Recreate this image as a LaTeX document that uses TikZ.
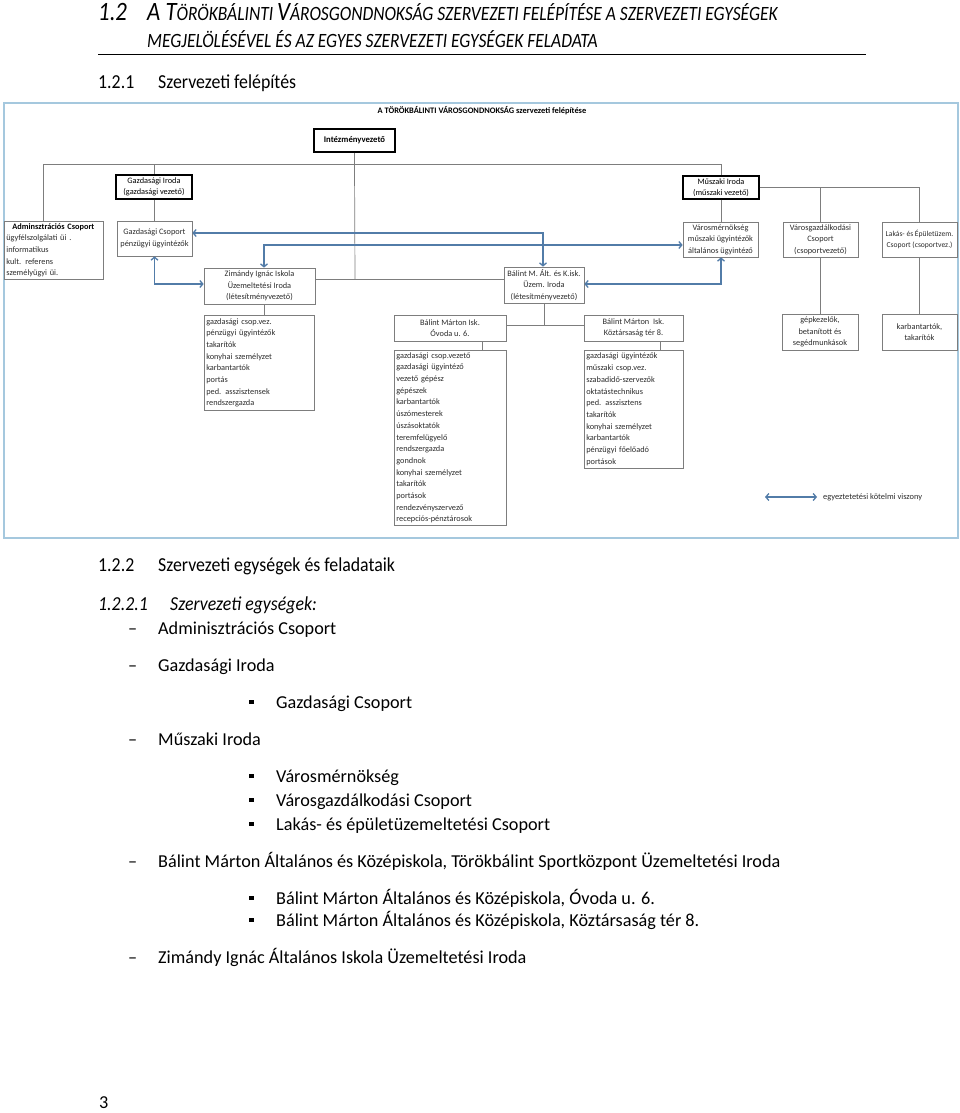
\documentclass[tikz,border=0pt]{standalone}
\usepackage{fontspec}
\setmainfont{Carlito}
\newfontfamily\narrowf[FakeStretch=0.86]{Carlito}
\newfontfamily\narrowg[FakeStretch=0.9]{Carlito}
\usetikzlibrary{arrows.meta}
\definecolor{frameblue}{RGB}{165,200,222}
\definecolor{arrowblue}{RGB}{82,124,168}
\definecolor{boxgray}{RGB}{125,125,125}
\definecolor{txtgray}{RGB}{45,45,45}
\newcommand\bigc[1]{{\fontsize{26.5}{29}\selectfont #1}}
\newcommand\smc[1]{{\fontsize{20.3}{22}\selectfont #1}}
\begin{document}
\begin{tikzpicture}[x=1pt,y=-1pt,
  box/.style={draw=boxgray, line width=0.7pt, fill=white, text=txtgray, font=\fontsize{8.3}{11.5}\selectfont, align=center, inner sep=0pt},
  bossbox/.style={box, draw=black, line width=1.3pt, text=black},
  listbox/.style={draw=boxgray, line width=0.7pt, fill=white, text=txtgray, font=\fontsize{8.3}{11.7}\selectfont, align=left, anchor=north west, inner xsep=2pt, inner ysep=0pt},
  conn/.style={draw=boxgray, line width=0.7pt},
  link/.style={draw=arrowblue, line width=1.3pt, {Straight Barb[length=3pt,width=7pt]}-{Straight Barb[length=3pt,width=7pt]}},
  body/.style={anchor=base west, font=\fontsize{18.2}{20}\selectfont, inner sep=0pt},
  head/.style={anchor=base west, font=\narrowg\fontsize{19.8}{22}\selectfont, inner sep=0pt},
  bul/.style={fill=black, minimum size=4.5pt, inner sep=0pt}
]
\fill[white] (0,0) rectangle (960,1113);
\useasboundingbox (0,0) rectangle (960,1113);

% ---- top heading
\node[anchor=base west, inner sep=0pt, font=\narrowf\itshape\fontsize{26.5}{29}\selectfont] (n12) at (98,21) {1.2};
\node[anchor=base west, inner sep=0pt, font=\narrowf\itshape] (h1) at (147,21) {\bigc{A T}\smc{ÖRÖKBÁLINTI }\bigc{V}\smc{ÁROSGONDNOKSÁG SZERVEZETI FELÉPÍTÉSE A SZERVEZETI EGYSÉGEK}};
\node[anchor=base west, inner sep=0pt, font=\narrowf\itshape] (h2) at (147,48) {\smc{MEGJELÖLÉSÉVEL ÉS AZ EGYES SZERVEZETI EGYSÉGEK FELADATA}};
\coordinate (r1) at (98,54); \coordinate (r2) at (866,54);
\draw[line width=0.8pt] (r1) -- (r2);
\node[head] (n121) at (98,89) {1.2.1};
\node[head] (t121) at (158,89) {Szervezeti felépítés};

% ---- chart frame
\draw[frameblue, line width=1.5pt] (4,103) rectangle (958,538);
\node[font=\bfseries\fontsize{8.4}{10}\selectfont, inner sep=0pt] (title) at (482,111) {A TÖRÖKBÁLINTI VÁROSGONDNOKSÁG szervezeti felépítése};

% ---- boxes
\node[bossbox, minimum width=81pt, minimum height=23pt, font=\fontsize{8.7}{11}\selectfont] (intez) at (354.5,140.5) {\bfseries Intézményvezető};
\node[bossbox, minimum width=76pt, minimum height=24pt] (gi) at (154,187) {Gazdasági Iroda\\(gazdasági vezető)};
\node[box, minimum width=75pt, minimum height=35pt] (gc) at (154.5,238.5) {Gazdasági Csoport\\pénzügyi ügyintézők};
\node[listbox, text width=95pt, minimum height=58pt] (adm) at (4,221) {\hspace*{6pt}{\bfseries\color{black}Adminsztrációs Csoport}\\ügyfélszolgálati üi .\\informatikus\\kult. referens\\személyügyi üi.};
\node[box, minimum width=111pt, minimum height=36pt] (zim) at (259.5,286) {Zimándy Ignác Iskola\\Üzemeltetési Iroda\\(létesítményvezető)};
\node[listbox, text width=106pt, minimum height=95pt] (ziml) at (204,315) {gazdasági csop.vez.\\pénzügyi ügyintézők\\takarítók\\konyhai személyzet\\karbantartók\\portás\\ped. asszisztensek\\rendszergazda};
\node[box, minimum width=80pt, minimum height=36pt] (bm) at (544,285) {Bálint M. Ált. és K.isk.\\Üzem. Iroda\\(létesítményvezető)};
\node[box, minimum width=112pt, minimum height=26pt] (ov) at (450,328) {Bálint Márton Isk.\\Óvoda u. 6.};
\node[box, minimum width=99pt, minimum height=26pt] (kt) at (633.5,328) {Bálint Márton\ \ Isk.\\Köztársaság tér 8.};
\node[listbox, text width=108pt, minimum height=175pt] (ovl) at (394,350) {gazdasági csop.vezető\\gazdasági ügyintéző\\vezető gépész\\gépészek\\karbantartók\\úszómesterek\\úszásoktatók\\teremfelügyelő\\rendszergazda\\gondnok\\konyhai személyzet\\takarítók\\portások\\rendezvényszervező\\recepciós-pénztárosok};
\node[listbox, text width=95pt, minimum height=118pt] (ktl) at (584,350) {gazdasági ügyintézők\\műszaki csop.vez.\\szabadidő-szervezők\\oktatástechnikus\\ped. asszisztens\\takarítók\\konyhai személyzet\\karbantartók\\pénzügyi főelőadó\\portások};
\node[bossbox, minimum width=76pt, minimum height=23pt] (mi) at (721,187.5) {Műszaki Iroda\\(műszaki vezető)};
\node[box, minimum width=75pt, minimum height=35pt] (vm) at (720.5,239.5) {Városmérnökség\\műszaki ügyintézők\\általános ügyintéző};
\node[box, minimum width=75pt, minimum height=35pt] (vg) at (820.5,239.5) {Városgazdálkodási\\Csoport\\(csoportvezető)};
\node[box, minimum width=75pt, minimum height=35pt, font=\fontsize{7.6}{11}\selectfont] (lak) at (919.5,239.5) {Lakás- és Épületüzem.\\Csoport (csoportvez.)};
\node[box, minimum width=76pt, minimum height=36pt] (gep) at (820,332) {gépkezelők,\\betanított és\\segédmunkások};
\node[box, minimum width=75pt, minimum height=36pt] (karb) at (919.5,332) {karbantartók,\\takarítók};

% ---- connectors
\coordinate (hl) at (43,164); \coordinate (hr) at (721,164);
\draw[conn] (hl) -- (hr);
\draw[conn] (hl) -- (hl |- adm.north);
\draw[conn] (gi.north |- hl) -- (gi.north);
\draw[conn] (gi.south) -- (gi.south |- gc.north);
\coordinate (mid) at (355,279);
\draw[conn] (intez.south) -- (intez.south |- hl);
\draw[conn] (intez.south |- hl) -- (mid);
\draw[conn] (zim.east |- mid) -- (bm.west |- mid);
\draw[conn] (hr) -- (mi.north);
\draw[conn] (mi.south) -- (mi.south |- vm.north);
\coordinate (mr) at (919.5,187.5);
\draw[conn] (mi.east) -- (mr) -- (mr |- lak.north);
\draw[conn] (vg.north |- mr) -- (vg.north);
\draw[conn] (vg.south) -- (vg.south |- gep.north);
\draw[conn] (lak.south) -- (lak.south |- karb.north);
\draw[conn] ([xshift=4.5pt]zim.south) -- ([xshift=4.5pt]zim.south |- ziml.north);
\coordinate (bj) at (544,325);
\draw[conn] (bm.south) -- (bj);
\draw[conn] (ov.east |- bj) -- (kt.west |- bj);
\draw[conn] ([xshift=32pt]ov.south) -- ([xshift=32pt]ov.south |- ovl.north);
\draw[conn] ([xshift=26.5pt]kt.south) -- ([xshift=26.5pt]kt.south |- ktl.north);

% ---- coordination arrows
\coordinate (a1) at (154.5,284);
\draw[link] (gc.south) -- (a1) -- (a1 -| zim.west);
\coordinate (a2) at (543,233);
\draw[link] (gc.east |- a2) -- (a2) -- (a2 |- bm.north);
\coordinate (a3) at (264,245);
\draw[link] (a3 |- zim.north) -- (a3) -- (a3 -| vm.west);
\coordinate (a4) at (721,284);
\draw[link] (a4 -| bm.east) -- (a4) -- (a4 |- vm.south);
\coordinate (l1) at (765,497); \coordinate (l2) at (817,497);
\draw[link] (l1) -- (l2);
\node[anchor=west, inner sep=0pt, text=txtgray, font=\fontsize{8.4}{10}\selectfont] (legend) at (823,497) {egyeztetetési kötelmi viszony};

% ---- lower text
\node[head] (n122) at (98,571) {1.2.2};
\node[head] (t122) at (158,571) {Szervezeti egységek és feladataik};
\node[head, font=\narrowg\itshape\fontsize{19.8}{22}\selectfont] (n1221) at (98,610) {1.2.2.1};
\node[head, font=\narrowg\itshape\fontsize{19.8}{22}\selectfont] (t1221) at (170,610) {Szervezeti egységek:};

\node[body] (d1) at (128,634) {–}; \node[body] (i1) at (158,634) {Adminisztrációs Csoport};
\node[body] (d2) at (128,671) {–}; \node[body] (i2) at (158,671) {Gazdasági Iroda};
\node[bul] (b1) at (251.5,702) {}; \node[body] (j1) at (276,708) {Gazdasági Csoport};
\node[body] (d3) at (128,745) {–}; \node[body] (i3) at (158,745) {Műszaki Iroda};
\node[bul] (b2) at (251.5,776) {}; \node[body] (j2) at (276,782) {Városmérnökség};
\node[bul] (b3) at (251.5,800) {}; \node[body] (j3) at (276,806) {Városgazdálkodási Csoport};
\node[bul] (b4) at (251.5,824) {}; \node[body] (j4) at (276,830) {Lakás- és épületüzemeltetési Csoport};
\node[body] (d4) at (128,867) {–}; \node[body] (i4) at (158,867) {Bálint Márton Általános és Középiskola, Törökbálint Sportközpont Üzemeltetési Iroda};
\node[bul] (b5) at (251.5,898) {}; \node[body] (j5) at (276,904) {Bálint Márton Általános és Középiskola, Óvoda u. 6.};
\node[bul] (b6) at (251.5,920) {}; \node[body] (j6) at (276,926) {Bálint Márton Általános és Középiskola, Köztársaság tér 8.};
\node[body] (d5) at (128,963) {–}; \node[body] (i5) at (158,963) {Zimándy Ignác Általános Iskola Üzemeltetési Iroda};
\node[body] (pg) at (99,1108) {3};
\end{tikzpicture}
\end{document}
